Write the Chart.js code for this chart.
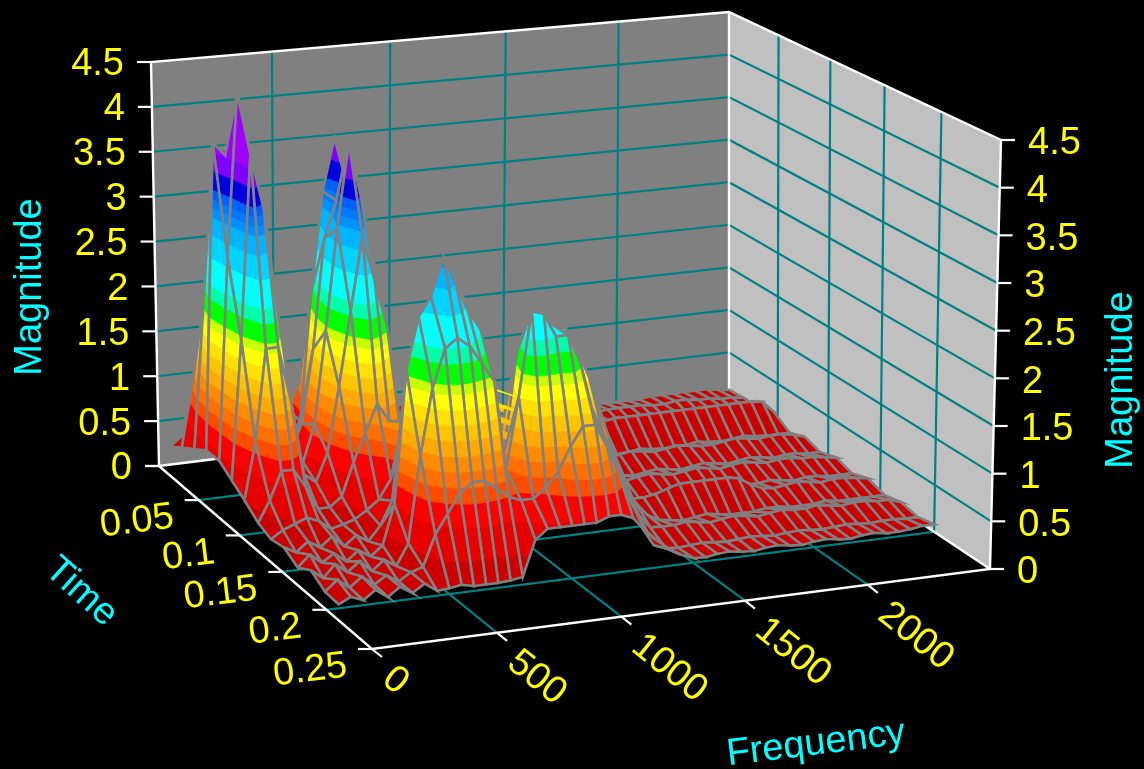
<!DOCTYPE html>
<html>
<head>
<meta charset="utf-8">
<title>Magnitude surface</title>
<style>
html, body { margin: 0; padding: 0; background: #000; }
#wrap { width: 1144px; height: 769px; }
</style>
<script src="https://cdn.jsdelivr.net/npm/chart.js@4/dist/chart.umd.min.js"></script>
</head>
<body>
<div id="wrap"><canvas id="chart"></canvas></div>
<script>
const frequencyTicks = [0, 500, 1000, 1500, 2000];
const timeTicks = [0, 0.05, 0.1, 0.15, 0.2, 0.25];
const magnitudeTicks = [0, 0.5, 1, 1.5, 2, 2.5, 3, 3.5, 4, 4.5];

const frequencyMax = 2500;
const timeMax = 0.25;
const magnitudeMax = 4.5;

const meshFrequency = [
    50, 100, 150, 200, 250, 300, 350, 400, 450, 500,
    550, 600, 650, 700, 750, 800, 850, 900, 950, 1000,
    1050, 1100, 1150, 1200, 1250, 1300, 1350, 1400, 1450, 1500,
    1550, 1600, 1650, 1700, 1750, 1800, 1850, 1900, 1950, 2000,
    2050, 2100, 2150, 2200, 2250, 2300, 2350, 2400, 2450, 2500
];
const meshTime = [0, 0.015, 0.031, 0.046, 0.062, 0.077, 0.092, 0.108, 0.123, 0.138, 0.154, 0.169, 0.185, 0.2];

// one row per meshTime, one value per meshFrequency
const magnitude = [
    [.2,.3,.35,.3,.25,.2,.2,.25,.3,.35, .4,.4,.35,.25,.2,.2,.2,.25,.25,.3, .3,.3,.25,.25,.2,.15,.12,.1,.08,.08, .08,.08,.06,.06,.08,.1,.1,.1,.08,.08, .08,.08,.1,.1,.1,.1,.1,.1,.08,.06],
    [.3,1,1,.8,.5,.3,.3,.35,.5,.7, .8,1.2,.7,.4,.25,.2,.25,.3,.4,.5, .55,.55,.5,.4,.3,.2,.14,.12,.1,.1, .12,.14,.12,.1,.1,.12,.12,.14,.14,.14, .14,.12,.12,.14,.14,.12,.12,.1,.1,.08],
    [.4,2,2.3,2,1.2,.4,.35,.45,.7,1, 1.4,2.5,1.3,.6,.3,.2,.25,.3,.4,.5, .55,.55,.5,.4,.3,.2,.15,.12,.1,.1, .06,.06,.1,.1,.06,.08,.12,.08,.08,.12, .08,.08,.12,.08,.08,.1,.12,.08,.06,.08],
    [.5,3.85,3.7,2.7,1.5,.6,.4,.5,.7,2.1, 3.2,3.78,2,.9,.4,.25,.25,.3,.4,.5, .55,.55,.5,.4,.3,.2,.15,.12,.12,.14, .16,.2,.24,.26,.28,.3,.3,.3,.3,.3, .3,.3,.3,.3,.3,.3,.3,.3,.28,.15],
    [.5,2.7,4.48,3.6,2.5,.9,.5,.8,1.6,2.8, 3.2,3.3,2.6,1.2,.5,.3,.25,.25,.3,.4, .45,.5,.45,.35,.3,.2,.15,.1,.06,.04, .03,.04,.06,.04,.03,.04,.06,.04,.03,.03, .04,.06,.04,.03,.04,.06,.04,.03,.03,.03],
    [.4,1.9,3.9,3.3,2.2,.8,.5,.9,1.9,3, 3.93,3.3,2.6,1.3,.6,.35,.3,.3,.35,.4, .45,.5,.45,.4,.3,.25,.15,.12,.14,.16, .16,.14,.14,.16,.18,.16,.14,.16,.18,.16, .14,.14,.16,.18,.16,.14,.16,.16,.14,.1],
    [.3,.9,1.9,1.9,1.3,.5,.4,.7,1.4,2.2, 3,2.5,2,1,.55,.5,.45,.45,.5,.5, .55,.6,.55,.5,.4,.3,.2,.12,.06,.05, .05,.08,.06,.04,.06,.08,.06,.04,.06,.08, .06,.04,.06,.08,.06,.04,.06,.06,.04,.04],
    [.18,.4,.7,.7,.5,.25,.25,.35,.7,1, 1.3,1.1,.9,.7,.8,.9,.8,.6,.5,.5, .55,.6,.6,.55,.45,.35,.25,.15,.14,.16, .16,.14,.16,.18,.16,.14,.16,.18,.16,.14, .16,.18,.16,.14,.16,.16,.14,.14,.12,.1],
    [.12,.2,.25,.3,.25,.15,.18,.22,.3,.4, .6,1.2,1.6,1.8,1.9,1.7,1.4,1,.8,.7, .9,1,1,.9,.8,.6,.4,.25,.12,.06, .06,.04,.06,.08,.06,.04,.06,.08,.06,.04, .06,.06,.08,.06,.04,.06,.06,.04,.04,.04],
    [.15,.08,.18,.1,.2,.08,.18,.1,.25,.5, 1.2,2,2.4,2.85,2.9,2.4,2,1.5,1.1,1.2, 1.7,1.8,1.8,1.7,1.5,1.1,.7,.4,.22,.2, .2,.22,.26,.3,.3,.3,.3,.3,.28,.2, .14,.12,.14,.16,.14,.12,.14,.14,.12,.1],
    [.06,.18,.08,.16,.06,.16,.08,.18,.6,2, 2.55,2.75,3.15,2.85,2.55,2.35,1.8,1,2.05,2.45, 2.45,2.3,2.25,2,1.7,1.3,.9,.5,.3,.15, .08,.06,.04,.06,.08,.06,.04,.04,.04,.06, .06,.04,.04,.04,.06,.04,.04,.04,.04,.04],
    [.15,.05,.18,.08,.18,.06,.16,.08,.3,1.2, 1.9,2.3,2.4,2.3,2.1,1.9,.95,1.7,2.6,2.55, 2.3,2.3,2,1.5,1.2,.95,.65,.3,.15,.14, .14,.16,.14,.12,.14,.16,.14,.12,.14,.16, .14,.14,.16,.14,.12,.14,.14,.12,.12,.08],
    [.05,.16,.06,.16,.06,.14,.06,.14,.18,.5, .7,.9,1,1,.9,.8,.75,.75,.85,1, 1.25,1.45,1.45,1.2,.9,.6,.3,.1,.05,.04, .05,.06,.05,.04,.05,.06,.05,.04,.05,.06, .05,.04,.05,.06,.05,.04,.05,.05,.04,.04],
    [.04,.1,.05,.14,.05,.14,.06,.14,.05,.06, .08,.05,.05,.05,.06,.08,.45,.55,.55,.55, .55,.55,.6,.6,.55,.4,.28,.18,.1,.05, .04,.06,.07,.05,.04,.06,.07,.05,.04,.06, .07,.05,.04,.06,.07,.05,.05,.06,.08,.08]
];

const bandLevels = [0.28, 0.58, 0.8, 0.95, 1.1, 1.25, 1.4, 1.55, 1.7, 1.85, 1.95, 2.15, 2.3, 2.6, 2.85, 3.05, 3.15, 3.25, 3.35, 3.55, 3.75, 9];
const bandColors = ["#cc0000", "#e60000", "#ff0000", "#ff4d00", "#ff7000", "#ff8c00", "#ffaa00", "#ffc400", "#ffe000", "#ffff00", "#c8ff00", "#00ff00", "#00ffaa", "#00ffff", "#00d4ff", "#00b4ff", "#0090ff", "#0078ff", "#0060ff", "#0000e0", "#8000ff", "#a000ff"];

// camera: where the corners of the box land on the page
const floorCorners = [[159, 466], [729, 395], [990, 569], [372, 649]];
const ceilingCorners = [[151, 62], [729, 12], [1001, 140], [366, 205]];

function squareToQuad(q) {
    const [[x0, y0], [x1, y1], [x2, y2], [x3, y3]] = q;
    const dx1 = x1 - x2, dx2 = x3 - x2, sx = x0 - x1 + x2 - x3;
    const dy1 = y1 - y2, dy2 = y3 - y2, sy = y0 - y1 + y2 - y3;
    const det = dx1 * dy2 - dx2 * dy1;
    const g = (sx * dy2 - dx2 * sy) / det;
    const h = (dx1 * sy - sx * dy1) / det;
    return (u, v) => {
        const w = g * u + h * v + 1;
        return [
            ((x1 - x0 + g * x1) * u + (x3 - x0 + h * x3) * v + x0) / w,
            ((y1 - y0 + g * y1) * u + (y3 - y0 + h * y3) * v + y0) / w
        ];
    };
}

const floorMap = squareToQuad(floorCorners);
const ceilingMap = squareToQuad(ceilingCorners);

function project(f, t, m) {
    const u = f / frequencyMax, v = t / timeMax, w = m / magnitudeMax;
    const a = floorMap(u, v), b = ceilingMap(u, v);
    return { x: a[0] + (b[0] - a[0]) * w, y: a[1] + (b[1] - a[1]) * w };
}

const layers = [];

function addFill(points, color) {
    const pts = points.concat([points[0]]);
    layers.push({ data: pts, showLine: true, fill: "shape", backgroundColor: color, borderColor: color, borderWidth: 0.7, pointRadius: 0 });
}

function addLine(points, color, width) {
    layers.push({ data: points, showLine: true, fill: false, borderColor: color, borderWidth: width, pointRadius: 0 });
}

const TEAL = "#008080";
const WHITE = "#ffffff";
const MESH = "#808080";

// walls
addFill([project(0, 0, 0), project(frequencyMax, 0, 0), project(frequencyMax, 0, magnitudeMax), project(0, 0, magnitudeMax)], "#808080");
addFill([project(frequencyMax, 0, 0), project(frequencyMax, timeMax, 0), project(frequencyMax, timeMax, magnitudeMax), project(frequencyMax, 0, magnitudeMax)], "#c0c0c0");

// grid lines on walls and floor
magnitudeTicks.slice(1, -1).forEach(m => {
    addLine([project(0, 0, m), project(frequencyMax, 0, m), project(frequencyMax, timeMax, m)], TEAL, 2.2);
});
frequencyTicks.slice(1).forEach(f => {
    addLine([project(f, timeMax, 0), project(f, 0, 0), project(f, 0, magnitudeMax)], TEAL, 2.2);
});
timeTicks.slice(1, -1).forEach(t => {
    addLine([project(0, t, 0), project(frequencyMax, t, 0), project(frequencyMax, t, magnitudeMax)], TEAL, 2.2);
});

// frame
addLine([project(0, 0, 0), project(0, timeMax, 0), project(frequencyMax, timeMax, 0), project(frequencyMax, 0, 0), project(0, 0, 0)], WHITE, 2.4);
addLine([project(0, 0, 0), project(0, 0, magnitudeMax), project(frequencyMax, 0, magnitudeMax), project(frequencyMax, timeMax, magnitudeMax), project(frequencyMax, timeMax, 0)], WHITE, 2.4);
addLine([project(frequencyMax, 0, 0), project(frequencyMax, 0, magnitudeMax)], WHITE, 2.4);

// tick marks
function addTick(p, dx, dy) {
    addLine([p, { x: p.x + dx, y: p.y + dy }], WHITE, 2.2);
}
magnitudeTicks.forEach(m => {
    addTick(project(0, 0, m), -14, 0);
    addTick(project(frequencyMax, timeMax, m), 14, 0);
});
timeTicks.forEach(t => addTick(project(0, t, 0), -14, 0));
frequencyTicks.forEach(f => addTick(project(f, timeMax, 0), 10, 8));

// surface, back rows first and high frequencies first within a row
function clipAbove(poly, level, keepAbove) {
    const out = [];
    poly.forEach((a, i) => {
        const b = poly[(i + 1) % poly.length];
        const aIn = keepAbove ? a.m >= level : a.m <= level;
        const bIn = keepAbove ? b.m >= level : b.m <= level;
        if (aIn) out.push(a);
        if (aIn !== bIn) {
            const k = (level - a.m) / (b.m - a.m);
            out.push({ f: a.f + (b.f - a.f) * k, t: a.t + (b.t - a.t) * k, m: level });
        }
    });
    return out;
}

for (let r = 0; r < meshTime.length - 1; r++) {
    for (let c = meshFrequency.length - 2; c >= 0; c--) {
        const quad = [
            { f: meshFrequency[c], t: meshTime[r], m: magnitude[r][c] },
            { f: meshFrequency[c + 1], t: meshTime[r], m: magnitude[r][c + 1] },
            { f: meshFrequency[c + 1], t: meshTime[r + 1], m: magnitude[r + 1][c + 1] },
            { f: meshFrequency[c], t: meshTime[r + 1], m: magnitude[r + 1][c] }
        ];
        let lo = 0;
        bandLevels.forEach((hi, i) => {
            let part = clipAbove(clipAbove(quad, lo, true), hi, false);
            if (part.length > 2) addFill(part.map(p => project(p.f, p.t, p.m)), bandColors[i]);
            lo = hi;
        });
        const corners = quad.map(p => project(p.f, p.t, p.m));
        addLine(corners.concat([corners[0]]), MESH, 2.6);
    }
}

const labelPlugin = {
    id: "boxLabels",
    afterDatasetsDraw(chart) {
        const ctx = chart.ctx;
        const px = p => ({ x: chart.scales.x.getPixelForValue(p.x), y: chart.scales.y.getPixelForValue(p.y) });
        function text(str, p, angle, align, color) {
            ctx.save();
            ctx.translate(p.x, p.y);
            ctx.rotate(angle * Math.PI / 180);
            ctx.textAlign = align;
            ctx.textBaseline = "middle";
            ctx.fillStyle = color;
            ctx.font = "38px 'Liberation Sans'";
            ctx.fillText(str, 0, 0);
            ctx.restore();
        }
        const YELLOW = "#ffff00", CYAN = "#00ffff";
        magnitudeTicks.forEach(m => {
            const a = px(project(0, 0, m));
            text(String(m), { x: a.x - 27, y: a.y + 3 }, 0, "right", YELLOW);
            const b = px(project(frequencyMax, timeMax, m));
            text(String(m), { x: b.x + 27, y: b.y + 4 }, 0, "left", YELLOW);
        });
        timeTicks.slice(1).forEach(t => {
            const a = px(project(0, t, 0));
            text(String(t), { x: a.x - 25, y: a.y + 17 }, -7, "right", YELLOW);
        });
        frequencyTicks.forEach(f => {
            const a = px(project(f, timeMax, 0));
            text(String(f), { x: a.x + 15, y: a.y + 25 }, 39, "left", YELLOW);
        });
        text("Magnitude", { x: 31, y: 287 }, -90, "center", CYAN);
        text("Magnitude", { x: 1122, y: 380 }, -90, "center", CYAN);
        text("Time", { x: 81, y: 592 }, 42, "center", CYAN);
        text("Frequency", { x: 816, y: 744 }, -7, "center", CYAN);
    }
};

new Chart(document.getElementById("chart"), {
    type: "scatter",
    data: { datasets: layers.slice().reverse() },
    options: {
        animation: false,
        responsive: true,
        maintainAspectRatio: false,
        events: [],
        layout: { padding: 0 },
        scales: {
            x: { type: "linear", min: 0, max: 1144, display: false },
            y: { type: "linear", min: 0, max: 769, reverse: true, display: false }
        },
        plugins: { legend: { display: false }, tooltip: { enabled: false } }
    },
    plugins: [labelPlugin]
});
</script>
</body>
</html>
